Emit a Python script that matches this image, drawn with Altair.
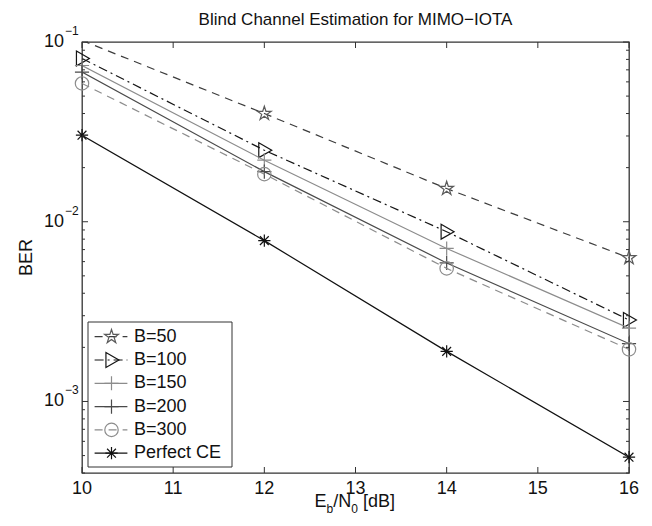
import altair as alt
import pandas as pd

# ---- data ----
snr = [10, 12, 14, 16]
series_names = ["B=50", "B=100", "B=150", "B=200", "B=300", "Perfect CE"]
ber_b50 = [0.102, 0.040, 0.0153, 0.0063]
ber_b100 = [0.081, 0.025, 0.0088, 0.00284]
ber_b150 = [0.074, 0.022, 0.0071, 0.00256]
ber_b200 = [0.068, 0.019, 0.0059, 0.0021]
ber_b300 = [0.0588, 0.0184, 0.0055, 0.00195]
ber_perfect = [0.0303, 0.00785, 0.0019, 0.00049]

x_ticks = [10, 11, 12, 13, 14, 15, 16]
y_major = [0.1, 0.01, 0.001]
y_exponents = ["\u22121", "\u22122", "\u22123"]
y_minor = [0.0004, 0.0005, 0.0006, 0.0007, 0.0008, 0.0009,
           0.002, 0.003, 0.004, 0.005, 0.006, 0.007, 0.008, 0.009,
           0.02, 0.03, 0.04, 0.05, 0.06, 0.07, 0.08, 0.09]

title_text = "Blind Channel Estimation for MIMO\u2212IOTA"

# ---- styles ----
FONT = "Liberation Sans"
STAR = ("M0,-1L0.2245,-0.309L0.9511,-0.309L0.3633,0.118L0.5878,0.809L0,0.382"
        "L-0.5878,0.809L-0.3633,0.118L-0.9511,-0.309L-0.2245,-0.309Z")
TRI_R = "M-0.75,-1L1,0L-0.75,1Z"
PLUS = "M-1,0L1,0M0,-1L0,1"
AST = "M-1,0L1,0M0,-1L0,1M-0.72,-0.72L0.72,0.72M-0.72,0.72L0.72,-0.72"
line_colors = ["#3c3c3c", "#151515", "#8c8c8c", "#4a4a4a", "#8c8c8c", "#111111"]
marker_colors = ["#5a5a5a", "#151515", "#8c8c8c", "#4a4a4a", "#8c8c8c", "#111111"]
dashes = [[8, 6], [9, 4, 2, 4], None, None, [8, 6], None]
shapes = [STAR, TRI_R, PLUS, PLUS, "circle", AST]
sizes = [210, 220, 200, 200, 180, 150]

W, H = 547, 431
FRAME = "#333333"

all_vals = [ber_b50, ber_b100, ber_b150, ber_b200, ber_b300, ber_perfect]

xs = alt.Scale(domain=[10, 16], nice=False, zero=False)
ys = alt.Scale(type="log", domain=[0.0004, 0.1], nice=False)

data_layers = []
for i, (name, vals) in enumerate(zip(series_names, all_vals)):
    d = pd.DataFrame({"snr": snr, "ber": vals})
    lkw = dict(strokeWidth=1.2, clip=True, color=line_colors[i])
    if dashes[i] is not None:
        lkw["strokeDash"] = dashes[i]
    data_layers.append(alt.Chart(d).mark_line(**lkw).encode(
        x=alt.X("snr:Q", scale=xs, axis=None), y=alt.Y("ber:Q", scale=ys, axis=None)))
    # markers whose centre is inside the axes are drawn whole (as in MATLAB)
    data_layers.append(alt.Chart(d).transform_filter("datum.ber <= 0.1").mark_point(
        shape=shapes[i], size=sizes[i], filled=False, stroke=marker_colors[i],
        strokeWidth=1.2, opacity=1).encode(
        x=alt.X("snr:Q", scale=xs, axis=None), y=alt.Y("ber:Q", scale=ys, axis=None)))

one = pd.DataFrame({"a": [0]})

# ticks (inward)
ymaj = pd.DataFrame({"v": y_major, "e": y_exponents})
ymin = pd.DataFrame({"v": y_minor})
xt = pd.DataFrame({"t": x_ticks})
tick_layers = []
for d, L in [(ymaj, 6), (ymin, 3)]:
    tick_layers.append(alt.Chart(d).mark_rule(color=FRAME, strokeWidth=1).encode(
        y=alt.Y("v:Q", scale=ys, axis=None), x=alt.value(0), x2=alt.value(L)))
    tick_layers.append(alt.Chart(d).mark_rule(color=FRAME, strokeWidth=1).encode(
        y=alt.Y("v:Q", scale=ys, axis=None), x=alt.value(W - L), x2=alt.value(W)))
tick_layers.append(alt.Chart(xt).mark_rule(color=FRAME, strokeWidth=1).encode(
    x=alt.X("t:Q", scale=xs, axis=None), y=alt.value(H - 6), y2=alt.value(H)))
tick_layers.append(alt.Chart(xt).mark_rule(color=FRAME, strokeWidth=1).encode(
    x=alt.X("t:Q", scale=xs, axis=None), y=alt.value(0), y2=alt.value(6)))

# tick labels
ylab_base = alt.Chart(ymaj).mark_text(align="right", baseline="middle", fontSize=18, font=FONT, color="#111").encode(
    y=alt.Y("v:Q", scale=ys, axis=None), x=alt.value(-18), text=alt.value("10"))
ylab_exp = alt.Chart(ymaj).mark_text(align="left", baseline="middle", fontSize=12, font=FONT, dy=-11, color="#111").encode(
    y=alt.Y("v:Q", scale=ys, axis=None), x=alt.value(-17), text="e:N")
xlab = alt.Chart(xt).mark_text(align="center", baseline="middle", fontSize=18, font=FONT, color="#111").encode(
    x=alt.X("t:Q", scale=xs, axis=None), y=alt.value(H + 16), text="t:N")

# titles
ytitle = alt.Chart(one).mark_text(angle=270, align="center", baseline="middle", fontSize=18, font=FONT, color="#111").encode(
    x=alt.value(-55), y=alt.value(H / 2), text=alt.value("BER"))
ttl = alt.Chart(one).mark_text(align="center", baseline="middle", fontSize=17, font=FONT, color="#111").encode(
    x=alt.value(W / 2), y=alt.value(-22), text=alt.value(title_text))

x0 = W / 2 - 41
xparts = [("E", 0, 18, 0), ("b", 12, 12, 7), ("/N", 18.7, 18, 0), ("0", 36.7, 12, 7), ("[dB]", 48.6, 18, 0)]
xtitle_layers = []
for txt, off, fs, dy in xparts:
    xtitle_layers.append(alt.Chart(one).mark_text(align="left", baseline="middle", fontSize=fs, font=FONT, color="#111").encode(
        x=alt.value(x0 + off), y=alt.value(H + 29 + dy), text=alt.value(txt)))

# legend
leg_layers = [alt.Chart(one).mark_rect(fill="white", stroke=FRAME, strokeWidth=1).encode(
    x=alt.value(6), x2=alt.value(150), y=alt.value(280), y2=alt.value(425))]
for i, name in enumerate(series_names):
    yy = 294.7 + i * 23.3
    rkw = dict(color=line_colors[i], strokeWidth=1.2)
    if dashes[i] is not None:
        rkw["strokeDash"] = dashes[i]
    leg_layers.append(alt.Chart(one).mark_rule(**rkw).encode(
        x=alt.value(12.6), x2=alt.value(45.4), y=alt.value(yy)))
    leg_layers.append(alt.Chart(one).mark_point(shape=shapes[i], size=sizes[i], filled=False, stroke=marker_colors[i],
                                                strokeWidth=1.2, opacity=1).encode(
        x=alt.value(29.5), y=alt.value(yy)))
    leg_layers.append(alt.Chart(one).mark_text(align="left", baseline="middle", fontSize=18, font=FONT, color="#111").encode(
        x=alt.value(52), y=alt.value(yy), text=alt.value(name)))

chart = alt.layer(
    *data_layers, *tick_layers, ylab_base, ylab_exp, xlab, ytitle, ttl, *xtitle_layers, *leg_layers
).properties(
    width=W, height=H,
    padding={"left": 74, "top": 34, "right": 15, "bottom": 46},
    autosize=alt.AutoSizeParams(type="none"),
    background="white",
).configure_view(stroke=FRAME, strokeWidth=1.3)

chart.save("out.html", embed_options={"renderer": "svg", "actions": False})
